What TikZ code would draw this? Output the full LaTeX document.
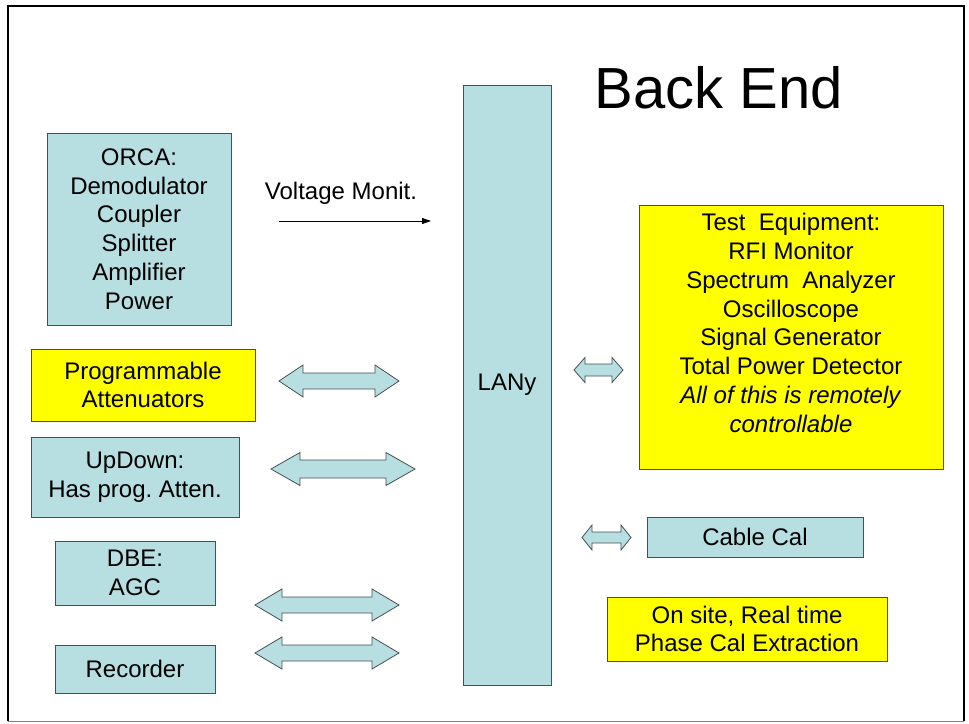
\documentclass[tikz,border=0pt]{standalone}
\usepackage{fontspec}
\setmainfont{Liberation Sans}
\usetikzlibrary{arrows.meta}
\frenchspacing
\definecolor{boxblue}{RGB}{183,222,225}
\definecolor{boxyellow}{RGB}{255,255,0}
\definecolor{boxline}{RGB}{70,80,80}
\newcommand\blockarrow[6]{%
  \draw[blockarr] (#1,#3) -- (#1+#6,#3-#4) -- (#1+#6,#3-#5) -- (#2-#6,#3-#5) -- (#2-#6,#3-#4) -- (#2,#3)
   -- (#2-#6,#3+#4) -- (#2-#6,#3+#5) -- (#1+#6,#3+#5) -- (#1+#6,#3+#4) -- cycle;}
\tikzset{
  box/.style={draw=boxline, line width=1pt, inner sep=0pt, align=center,
    font=\fontsize{24}{28.8}\selectfont},
  bluebox/.style={box, fill=boxblue},
  yellowbox/.style={box, fill=boxyellow},
  blockarr/.style={draw=boxline, line width=0.8pt, fill=boxblue, line join=miter},
  txt/.style={align=center, inner sep=0pt, font=\fontsize{24}{28.8}\selectfont},
}
\begin{document}
\begin{tikzpicture}[x=1pt,y=-1pt]
\useasboundingbox (0,0) rectangle (969,723);
% frame
\draw[line width=2pt] (8,721) -- (8,6) -- (964,6) -- (964,721);
\draw[line width=1pt, gray] (8,721) -- (964,721);

% title
\node[inner sep=0pt, font=\fontsize{58}{64}\selectfont] (title) at (719,88) {Back End};

% left boxes
\node[bluebox, minimum width=184pt, minimum height=192pt] (orca) at (139,229)
  {ORCA:\\Demodulator\\Coupler\\Splitter\\Amplifier\\Power};
\node[yellowbox, minimum width=224pt, minimum height=72pt] (prog) at (143,385)
  {Programmable\\Attenuators};
\node[bluebox, minimum width=208pt, minimum height=80pt] (updown) at (135,477)
  {UpDown:\\Has prog. Atten.};
\node[bluebox, minimum width=160pt, minimum height=64pt] (dbe) at (135,573)
  {DBE:\\AGC};
\node[bluebox, minimum width=160pt, minimum height=48pt] (rec) at (135,669)
  {Recorder};

% LAN
\node[bluebox, minimum width=88pt, minimum height=600pt] (lan) at (507,385) {LANy};

% right boxes
\node[yellowbox, minimum width=304pt, minimum height=264pt] (test) at (791,337) {};
\node[txt] (testtxt) at (791,323)
  {Test\ \ Equipment:\\RFI Monitor\\Spectrum\ \ Analyzer\\Oscilloscope\\Signal Generator\\Total Power Detector\\\textit{All of this is remotely}\\\textit{controllable}};
\node[bluebox, minimum width=216pt, minimum height=40pt] (cable) at (755,537) {Cable Cal};
\node[yellowbox, minimum width=280pt, minimum height=64pt] (onsite) at (747,629)
  {On site, Real time\\Phase Cal Extraction};

% voltage monitor
\node[txt] (volt) at (341,193) {Voltage Monit.};
\coordinate (vs) at (279,221);
\coordinate (ve) at (431,221);
\draw[line width=0.8pt, -{Triangle[length=9pt,width=6pt]}] (vs) -- (ve);

% block arrows
\blockarrow{279}{399}{381}{16}{8}{24}
\blockarrow{271}{415}{469}{16.5}{9}{29}
\blockarrow{255}{399}{605}{16}{8}{27}
\blockarrow{255}{399}{653}{16}{8}{27}
\blockarrow{574}{623}{370}{12.5}{6}{11}
\blockarrow{582}{631}{537.5}{12.5}{5.5}{10}
\end{tikzpicture}
\end{document}
